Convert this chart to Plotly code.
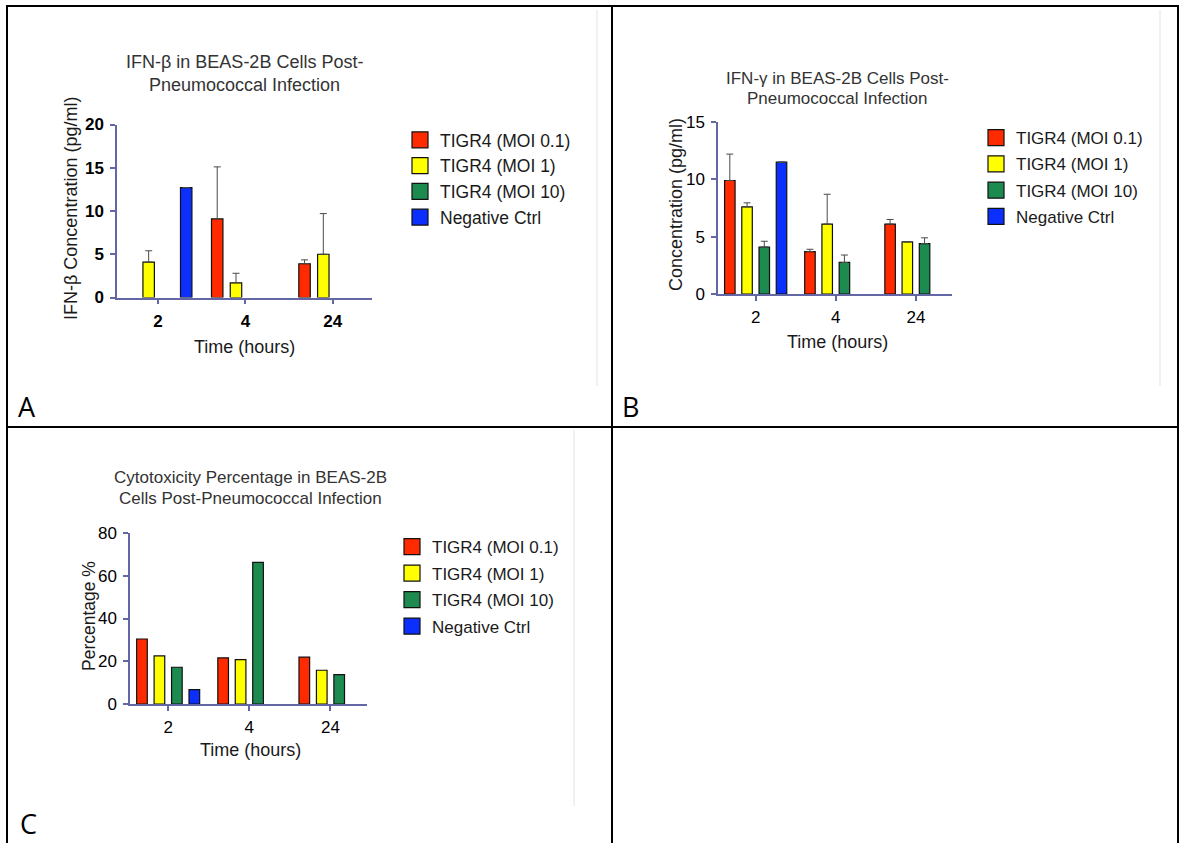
import plotly.graph_objects as go

W, H = 1184, 843

# ---------------- data ----------------
times = ["2", "4", "24"]
series_names = ["TIGR4 (MOI 0.1)", "TIGR4 (MOI 1)", "TIGR4 (MOI 10)", "Negative Ctrl"]
series_colors = ["#ff2a00", "#ffff00", "#1d8a4f", "#0b2fff"]

# Panel A: IFN-beta (pg/ml)
ifnb_moi01 = [None, 9.1, 3.9]
ifnb_moi1 = [4.1, 1.7, 5.0]
ifnb_moi10 = [None, None, None]
ifnb_neg = [12.7, None, None]
ifnb_err_moi01 = [0, 6.0, 0.45]
ifnb_err_moi1 = [1.3, 1.1, 4.7]
ifnb_err_moi10 = [0, 0, 0]
ifnb_err_neg = [0, 0, 0]

# Panel B: IFN-gamma (pg/ml)
ifng_moi01 = [9.9, 3.7, 6.1]
ifng_moi1 = [7.6, 6.1, 4.55]
ifng_moi10 = [4.1, 2.75, 4.4]
ifng_neg = [11.5, None, None]
ifng_err_moi01 = [2.3, 0.2, 0.4]
ifng_err_moi1 = [0.35, 2.6, 0]
ifng_err_moi10 = [0.5, 0.65, 0.5]
ifng_err_neg = [0, 0, 0]

# Panel C: cytotoxicity (%)
cyto_moi01 = [30.4, 21.6, 21.9]
cyto_moi1 = [22.5, 20.8, 15.8]
cyto_moi10 = [17.2, 66.3, 13.7]
cyto_neg = [6.7, None, None]

y_ticks_a = [0, 5, 10, 15, 20]
y_ticks_b = [0, 5, 10, 15]
y_ticks_c = [0, 20, 40, 60, 80]

# ---------------- helpers ----------------
def fx(px):
    return px / W

def fy(py):
    return 1 - py / H

AXIS_C = "#6367a6"
FONT = "Arial, Liberation Sans, sans-serif"
TXT = "#1a1a1a"

fig = go.Figure()

panels = [
    dict(key="", vals=[ifnb_moi01, ifnb_moi1, ifnb_moi10, ifnb_neg],
         errs=[ifnb_err_moi01, ifnb_err_moi1, ifnb_err_moi10, ifnb_err_neg], legend="legend"),
    dict(key="2", vals=[ifng_moi01, ifng_moi1, ifng_moi10, ifng_neg],
         errs=[ifng_err_moi01, ifng_err_moi1, ifng_err_moi10, ifng_err_neg], legend="legend2"),
    dict(key="3", vals=[cyto_moi01, cyto_moi1, cyto_moi10, cyto_neg],
         errs=None, legend="legend3"),
]

for p in panels:
    xa = "x" + p["key"]
    ya = "y" + p["key"]
    for i, name in enumerate(series_names):
        err = None
        if p["errs"] is not None:
            err = dict(type="data", symmetric=False, array=p["errs"][i],
                       arrayminus=[0] * len(times), color="#4a4a4a",
                       thickness=1, width=3.5)
        fig.add_trace(go.Bar(
            x=times, y=p["vals"][i], name=name, xaxis=xa, yaxis=ya,
            marker=dict(color=series_colors[i], line=dict(color="#111111", width=1.2)),
            error_y=err, showlegend=False, hoverinfo="x+y+name",
        ))
    for i, name in enumerate(series_names):
        fig.add_trace(go.Scatter(
            x=[None], y=[None], mode="markers", name=name, xaxis=xa, yaxis=ya,
            legend=p["legend"], legendgroup=p["legend"] + str(i),
            marker=dict(symbol="square", size=16, color=series_colors[i],
                        line=dict(color="#111111", width=1.2)),
        ))

def xaxis(left, right, bold=False, size=17):
    return dict(
        domain=[fx(left), fx(right)], type="category",
        categoryorder="array", categoryarray=times,
        range=[-0.47, 2.45], showline=True, linecolor=AXIS_C, linewidth=1.5,
        ticks="outside", ticklen=5, tickwidth=1.5, tickcolor=AXIS_C,
        tickfont=dict(family=FONT, size=size, color="#000",
                      weight="bold" if bold else "normal"),
        ticklabelstandoff=2, showgrid=False, zeroline=False, fixedrange=True,
        automargin=False,
    )

def yaxis(bottom, top, rng, ticks, bold=False, size=17):
    return dict(
        domain=[fy(bottom), fy(top)], range=rng, tickvals=ticks,
        showline=True, linecolor=AXIS_C, linewidth=1.5,
        ticks="outside", ticklen=5, tickwidth=1.5, tickcolor=AXIS_C,
        tickfont=dict(family=FONT, size=size, color="#000",
                      weight="bold" if bold else "normal"),
        ticklabelstandoff=3, showgrid=False, zeroline=False, fixedrange=True,
        automargin=False,
    )

xa1 = xaxis(117, 372, bold=True); xa1["anchor"] = "y"
ya1 = yaxis(297.5, 124.5, [0, 20], y_ticks_a, bold=True); ya1["anchor"] = "x"
xa2 = xaxis(718, 952); xa2["anchor"] = "y2"
ya2 = yaxis(294, 122, [0, 15], y_ticks_b); ya2["anchor"] = "x2"
xa3 = xaxis(130, 367); xa3["anchor"] = "y3"
ya3 = yaxis(704, 533, [0, 80], y_ticks_c); ya3["anchor"] = "x3"

def legend(left, top, size, gap=0):
    return dict(x=fx(left), y=fy(top), xanchor="left", yanchor="top",
                bgcolor="rgba(0,0,0,0)", borderwidth=0, itemsizing="trace",
                tracegroupgap=gap, font=dict(family=FONT, size=size, color=TXT))

annotations = []

def text(x, y, s, size, angle=0, color=TXT, family=FONT, xanchor="center"):
    annotations.append(dict(x=fx(x), y=fy(y), xref="paper", yref="paper", text=s,
                            showarrow=False, textangle=angle, xanchor=xanchor,
                            yanchor="middle", borderpad=0,
                            font=dict(family=family, size=size, color=color)))

# Panel titles
text(244, 62, "IFN-β in BEAS-2B Cells Post-", 18, color="#333")
text(244, 85, "Pneumococcal Infection", 18, color="#333")
text(837, 78, "IFN-γ in BEAS-2B Cells Post-", 17, color="#333")
text(837, 99, "Pneumococcal Infection", 17, color="#333")
text(250, 478, "Cytotoxicity Percentage in BEAS-2B", 17, color="#333")
text(250, 498, "Cells Post-Pneumococcal Infection", 17, color="#333")

# Axis titles
text(71, 209, "IFN-β Concentration (pg/ml)", 18, angle=-90)
text(244, 347, "Time (hours)", 18)
text(676, 205, "Concentration (pg/ml)", 18, angle=-90)
text(837, 342, "Time (hours)", 18)
text(89, 616, "Percentage %", 17.5, angle=-90)
text(250, 750, "Time (hours)", 18)

# Panel letters
LETTER_FONT = "Open Sans, sans-serif"
text(17, 406, "A", 27, color="#000", family=LETTER_FONT, xanchor="left")
text(621, 406, "B", 27, color="#000", family=LETTER_FONT, xanchor="left")
text(19, 823, "C", 27, color="#000", family=LETTER_FONT, xanchor="left")

# Table grid lines
shapes = []
def line(x0, y0, x1, y1, color="#000", width=2):
    shapes.append(dict(type="line", xref="paper", yref="paper",
                       x0=fx(x0), y0=fy(y0), x1=fx(x1), y1=fy(y1),
                       line=dict(color=color, width=width)))

# faint edges of embedded chart images
line(597, 10, 597, 386, color="#ededed", width=1.5)
line(1160, 10, 1160, 386, color="#ededed", width=1.5)
line(574, 430, 574, 806, color="#ededed", width=1.5)

line(7, 6, 1178, 6)
line(7, 5, 7, 843)
line(612, 5, 612, 843)
line(1178, 5, 1178, 843)
line(7, 427, 1178, 427)

fig.update_layout(
    width=W, height=H, autosize=False,
    margin=dict(l=0, r=0, t=0, b=0, pad=0, autoexpand=False),
    paper_bgcolor="white", plot_bgcolor="rgba(0,0,0,0)",
    barmode="group", bargap=0.14, bargroupgap=0.39,
    xaxis=xa1, yaxis=ya1, xaxis2=xa2, yaxis2=ya2, xaxis3=xa3, yaxis3=ya3,
    legend=legend(400, 122, 17.5),
    legend2=legend(976, 120, 17, gap=1.2),
    legend3=legend(392, 529, 17, gap=1.4),
    annotations=annotations, shapes=shapes,
    font=dict(family=FONT, color=TXT),
)

fig.write_html("out.html")
